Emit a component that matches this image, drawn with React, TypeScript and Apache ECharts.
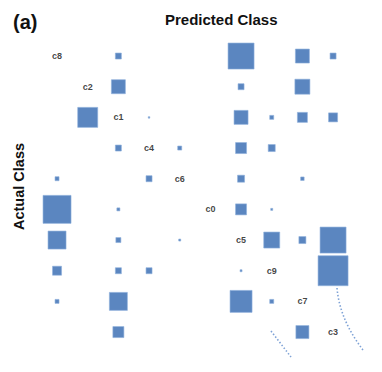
import React, { useEffect, useRef } from "react";
import * as echarts from "echarts";

const classes = ["c8", "c2", "c1", "c4", "c6", "c0", "c5", "c9", "c7", "c3"];

// Off-diagonal cells: actual class index (row), predicted class index (column), magnitude (square side)
const actualIdx = [0, 0, 0, 0, 1, 1, 1, 2, 2, 2, 2, 2, 2, 3, 3, 3, 3, 4, 4, 4, 4, 5, 5, 5, 5, 6, 6, 6, 6, 6, 6, 7, 7, 7, 7, 7, 8, 8, 8, 8, 9, 9];
const predictedIdx = [2, 6, 8, 9, 2, 6, 8, 1, 3, 6, 7, 8, 9, 2, 4, 6, 7, 0, 3, 6, 8, 0, 2, 6, 7, 0, 2, 4, 7, 8, 9, 0, 2, 3, 6, 9, 0, 2, 6, 7, 2, 8];
const magnitude = [6, 26, 14, 6, 14, 6, 15, 20, 1.5, 14, 4, 10, 9, 6, 4, 11, 7, 4, 6, 7, 3.5, 28, 3, 11, 2, 18, 5, 2, 16, 7, 26, 9, 6, 6, 2, 30, 4, 18, 22, 4, 11, 13];

export default function App() {
  const ref = useRef<HTMLDivElement>(null);
  useEffect(() => {
    if (!ref.current) return;
    const chart = echarts.init(ref.current, null, { renderer: "svg" });
    const cells = magnitude.map((m, i) => [predictedIdx[i], actualIdx[i], m]);
    const diag = classes.map((c, i) => [i, i, c]);
    chart.setOption({
      animation: false,
      backgroundColor: "#ffffff",
      grid: { left: 41.7, top: 40.7, width: 306.7, height: 306.7 },
      xAxis: { type: "category", data: classes, show: false },
      yAxis: { type: "category", data: classes, inverse: true, show: false },
      title: [
        {
          text: "(a)",
          left: 8,
          top: 7,
          textStyle: { fontFamily: "Liberation Sans, Arial, sans-serif", fontWeight: "bold", fontSize: 20, color: "#111" },
        },
        {
          text: "Predicted Class",
          left: 160,
          top: 7,
          textStyle: { fontFamily: "Liberation Sans, Arial, sans-serif", fontWeight: "bold", fontSize: 15, color: "#111" },
        },
      ],
      graphic: [
        {
          type: "text",
          x: 11,
          y: 230,
          rotation: Math.PI / 2,
          style: {
            text: "Actual Class",
            fontFamily: "Liberation Sans, Arial, sans-serif",
            fontWeight: "bold",
            fontSize: 14.5,
            fill: "#111",
          },
        },
        {
          type: "bezierCurve",
          shape: { x1: 337, y1: 288, cpx1: 339, cpy1: 312, cpx2: 350, cpy2: 333, x2: 363, y2: 350 },
          style: { stroke: "#7ea2d6", lineWidth: 1.6, lineDash: [1.5, 2], fill: null },
        },
        {
          type: "line",
          shape: { x1: 271, y1: 331, x2: 291, y2: 357 },
          style: { stroke: "#7ea2d6", lineWidth: 1.6, lineDash: [1.5, 2] },
        },
      ],
      series: [
        {
          type: "scatter",
          symbol: "rect",
          data: cells,
          symbolSize: (v: number[]) => v[2],
          itemStyle: { color: "#5b86c0", borderColor: "#8eb0dc", borderWidth: 0.6, opacity: 1 },
        },
        {
          type: "scatter",
          symbolSize: 0,
          data: diag,
          label: {
            show: true,
            position: "inside",
            formatter: (p: any) => p.data[2],
            fontFamily: "Liberation Sans, Arial, sans-serif",
            fontWeight: "bold",
            fontSize: 9,
            color: "#111",
          },
        },
      ],
    });
    return () => chart.dispose();
  }, []);
  return (
    <div
      ref={ref}
      style={{ position: "absolute", left: 0, top: 0, width: 382, height: 372 }}
    />
  );
}
